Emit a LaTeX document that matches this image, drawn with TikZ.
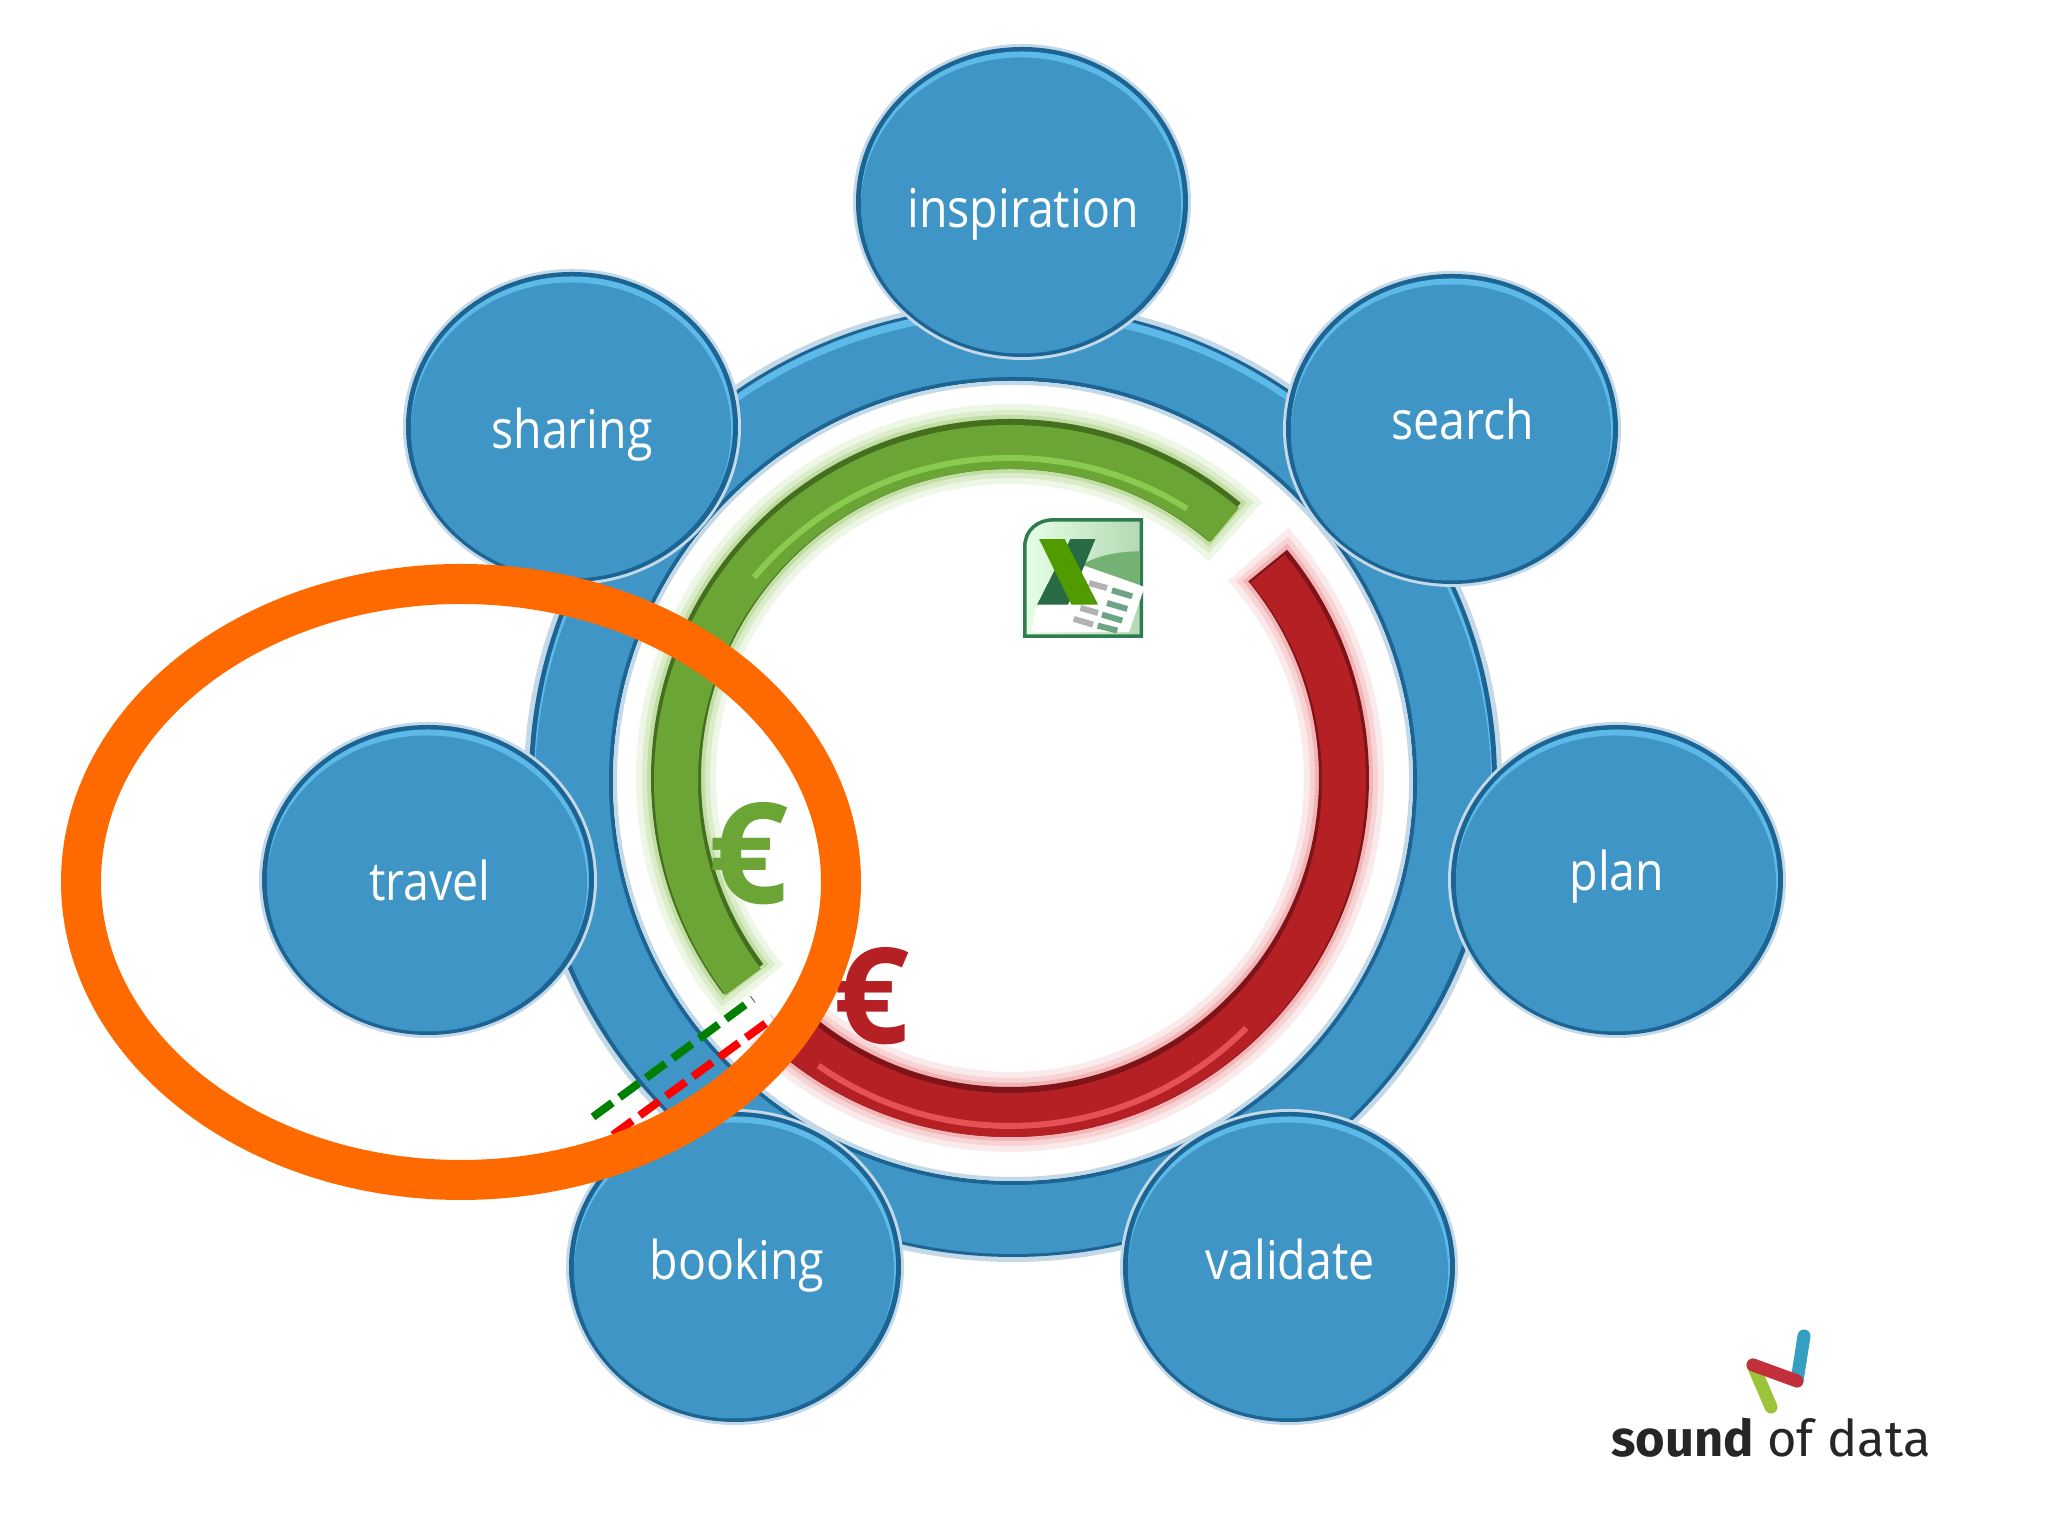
\documentclass[tikz,border=0pt]{standalone}
\usepackage{fontspec}
\setmainfont{Open Sans}
\newfontfamily\stagefont[FakeStretch=0.87]{Open Sans}
\newfontfamily\logofont{Fira Sans}
\usetikzlibrary{calc,shapes.geometric}

\definecolor{stageblue}{HTML}{3F95C6}
\definecolor{stagedark}{HTML}{1C6493}
\definecolor{stagelight}{HTML}{5DB9E8}
\definecolor{stagehalo}{HTML}{C4D9E8}
\definecolor{goodgreen}{HTML}{6AA535}
\definecolor{gooddark}{HTML}{446F1F}
\definecolor{goodlight}{HTML}{8FD257}
\definecolor{goodglow}{HTML}{A5CF78}
\definecolor{costred}{HTML}{B52025}
\definecolor{costdark}{HTML}{7F1418}
\definecolor{costlight}{HTML}{EE5A5E}
\definecolor{costglow}{HTML}{EE8F92}
\definecolor{ovalorange}{HTML}{FF6A00}
\definecolor{xlgreen}{HTML}{2E7D4F}
\definecolor{logoblue}{HTML}{359FC2}
\definecolor{logogreen}{HTML}{9CC43A}
\definecolor{logored}{HTML}{C2303C}

\tikzset{
	stage/.style={ellipse, minimum width=3.29cm, minimum height=3.07cm, inner sep=0pt,
		draw=stagedark, line width=0.03cm, fill=stagedark,
		preaction={draw=stagehalo, line width=0.09cm},
		path picture={
			\fill[stagelight] ($(path picture bounding box.center)+(0,0.005)$) ellipse (1.61 and 1.50);
			\fill[stageblue] ($(path picture bounding box.center)+(-0.01,-0.035)$) ellipse (1.60 and 1.48);
		}},
	stagetext/.style={anchor=base, text=white, inner sep=0pt, font=\stagefont\fontsize{15.2}{17}\selectfont},
	euro/.style={anchor=base, inner sep=0pt, font=\fontsize{40}{44}\selectfont\bfseries},
	greendash/.style={draw=green!50!black, line width=0.08cm, dash pattern=on 0.24cm off 0.09cm},
	reddash/.style={draw=red, line width=0.08cm, dash pattern=on 0.24cm off 0.09cm},
}

% soft edge, body, then the bevel of one band
\newcommand\bandarc[8]{
	\draw[#4, opacity=0.18, line width=0.80cm] (hub) ++({#1-2.5}:3.34) arc[start angle={#1-2.5}, end angle={#2+2.5}, radius=3.34];
	\draw[#4, opacity=0.25, line width=0.68cm] (hub) ++({#1-1.5}:3.34) arc[start angle={#1-1.5}, end angle={#2+1.5}, radius=3.34];
	\draw[#4, opacity=0.45, line width=0.58cm] (hub) ++({#1-0.7}:3.34) arc[start angle={#1-0.7}, end angle={#2+0.7}, radius=3.34];
	\draw[#5, line width=0.50cm] (hub) ++(#1:3.34) arc[start angle=#1, end angle=#2, radius=3.34];
	\draw[#3, line width=0.44cm] (hubbody) ++(#1:3.34) arc[start angle=#1, end angle=#2, radius=3.34];
	\draw[#6, opacity=0.85, line width=0.06cm] (hubstripe) ++(#7:3.34) arc[start angle=#7, end angle=#8, radius=3.34];
}

\begin{document}
\begin{tikzpicture}
	\useasboundingbox (0,0) rectangle (20.48,15.36);
	\fill[white] (0,0) rectangle (20.48,15.36);

	% ring
	\coordinate (ringhub) at (10.13,7.55);
	\draw[stagehalo, line width=0.10cm] (ringhub) ellipse (4.84 and 4.76);
	\draw[stagedark, fill=stagedark, line width=0.02cm] (ringhub) ellipse (4.83 and 4.75);
	\fill[stagelight] ($(ringhub)+(0,0.01)$) ellipse (4.79 and 4.72);
	\fill[stageblue] ($(ringhub)+(0,-0.04)$) ellipse (4.78 and 4.69);
	\draw[stagedark, fill=white, line width=0.04cm] (ringhub) ellipse (4.02 and 4.02);
	\draw[stagehalo, fill=white, line width=0.04cm] (ringhub) ellipse (3.98 and 3.98);

	% bands
	\coordinate (hub) at (10.10,7.58);
	\coordinate (hubbody) at (10.10,7.55);
	\coordinate (hubstripe) at (10.10,7.44);
	\bandarc{-132}{39.5}{costred}{costglow}{costdark}{costlight}{-125}{-45}
	\bandarc{50}{217}{goodgreen}{goodglow}{gooddark}{goodlight}{58}{140}

	% stages
	\node[stage] (inspiration) at (10.22,13.34) {};
	\node[stage] (sharing) at (5.72,11.09) {};
	\node[stage] (search) at (14.52,11.07) {};
	\node[stage] (plan) at (16.17,6.56) {};
	\node[stage] (validate) at (12.89,2.69) {};
	\node[stage] (booking) at (7.35,2.69) {};
	\node[stage] (travel) at (4.28,6.56) {};

	\node[stagetext] (inspirationtext) at (10.23,13.08) {inspiration};
	\node[stagetext] (sharingtext) at (5.72,10.87) {sharing};
	\node[stagetext] (searchtext) at (14.63,10.96) {search};
	\node[stagetext] (plantext) at (16.17,6.45) {plan};
	\node[stagetext] (validatetext) at (12.90,2.56) {validate};
	\node[stagetext] (bookingtext) at (7.37,2.56) {booking};
	\node[stagetext] (traveltext) at (4.30,6.35) {travel};

	% spreadsheet icon
	\begin{scope}[shift={(9.5,10.86)}, x=0.00333cm, y=-0.00333cm]
		\draw[xlgreen, line width=0.035cm, left color=white!90!green, right color=green!50!black!30] (225,560) -- (225,290) .. controls (225,240) and (265,210) .. (310,210) -- (575,210) -- (575,560) -- cycle;
		\fill[green!45!black!55] (395,345) .. controls (450,315) and (510,305) .. (570,305) -- (570,405) -- cycle;
		\fill[white] (395,345) -- (585,412) -- (538,548) -- (245,548) -- (258,478) -- cycle;
		\draw[xlgreen!70, line width=0.06cm] (487,422) -- (548,440);
		\draw[xlgreen!70, line width=0.06cm] (472,460) -- (533,478);
		\draw[xlgreen!70, line width=0.06cm] (457,495) -- (518,513);
		\draw[xlgreen!70, line width=0.06cm] (444,528) -- (503,543);
		\draw[black!30, line width=0.06cm] (418,400) -- (472,415);
		\draw[black!30, line width=0.06cm] (392,475) -- (445,490);
		\draw[black!30, line width=0.06cm] (372,508) -- (430,525);
		\fill[xlgreen!85!black] (362,268) -- (437,268) -- (355,465) -- (262,465) -- cycle;
		\fill[green!50!black!65!yellow!90!black] (268,268) -- (345,268) -- (445,465) -- (365,465) -- cycle;
	\end{scope}

	% euro signs
	\node[euro, text=goodgreen] (goodeuro) at (7.49,6.32) {€};
	\node[euro, text=costred, font=\fontsize{38}{44}\selectfont\bfseries] (costeuro) at (8.72,4.92) {€};

	% split lines
	\coordinate (greenlow) at (5.93,4.19);
	\coordinate (greenhigh) at (7.53,5.37);
	\coordinate (redlow) at (6.13,4.01);
	\coordinate (redhigh) at (7.73,5.18);
	\draw[greendash] (greenlow) -- (greenhigh);
	\draw[reddash] (redlow) -- (redhigh);

	% orange oval
	\draw[ovalorange, line width=0.40cm] (4.61,6.54) ellipse (3.80 and 2.98);

	% logo
	\coordinate (logotop) at (18.04,2.00);
	\coordinate (logoknee) at (17.97,1.55);
	\coordinate (logoleft) at (17.53,1.71);
	\coordinate (logofoot) at (17.71,1.29);
	\draw[logogreen, line width=0.13cm, line cap=round] (logoleft) -- (logofoot);
	\draw[logoblue, line width=0.13cm, line cap=round] (logotop) -- (logoknee);
	\draw[logored, line width=0.13cm, line cap=round] (logoleft) -- (logoknee);
	\node[anchor=base, inner sep=0pt, text=black!85, font=\logofont\fontsize{14.4}{16}\selectfont] (logotext) at (17.71,0.79) {\textbf{sound} of data};
\end{tikzpicture}
\end{document}
